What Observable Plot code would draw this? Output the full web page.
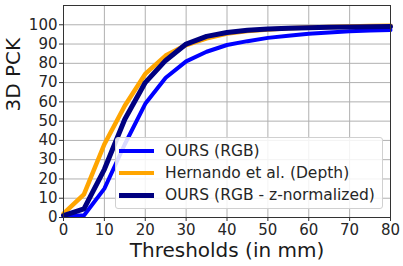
<!DOCTYPE html>
<html>
<head>
<meta charset="utf-8">
<script src="https://cdn.jsdelivr.net/npm/d3@7"></script>
<script src="https://cdn.jsdelivr.net/npm/@observablehq/plot@0.6"></script>
<style>
  html, body { margin: 0; padding: 0; background: #fff; }
  #wrap { position: relative; width: 403px; height: 266px; font-family: "DejaVu Sans", sans-serif; }
  #legend { position: absolute; left: 115px; top: 137px; width: 268px; height: 72px;
    background: rgba(255,255,255,0.85); border: 1px solid #d0d0d0; border-radius: 3px; box-sizing: border-box; }
  .row { position: absolute; left: 3px; height: 22px; display: flex; align-items: center; font-size: 15.5px; color: #262626; white-space: nowrap; }
  .swatch { width: 35px; margin-right: 11px; }
</style>
</head>
<body>
<div id="wrap"></div>
<script>
const thresholds = [0, 5, 10, 15, 20, 25, 30, 35, 40, 45, 50, 55, 60, 65, 70, 75, 80];
const oursRGB   = [1, 1, 15, 38, 59, 72.5, 81, 86, 89.5, 91.5, 93.2, 94.3, 95.3, 96, 96.6, 97, 97.3];
const hernando  = [2, 12, 38, 58, 74.5, 84, 89.5, 93, 95.5, 96.8, 97.6, 98.2, 98.6, 98.9, 99.1, 99.3, 99.5];
const oursZ     = [1, 4.5, 25, 51, 70, 81.5, 90, 94, 96, 97.2, 97.8, 98.2, 98.5, 98.7, 98.9, 99, 99.1];
const seriesNames = ["OURS (RGB)", "Hernando et al. (Depth)", "OURS (RGB - z-normalized)"];
const seriesColors = ["#0000ff", "#ffa500", "#000080"];
const seriesWidths = [4, 4.5, 5];
const xTicks = [0, 10, 20, 30, 40, 50, 60, 70, 80];
const yTicks = [0, 10, 20, 30, 40, 50, 60, 70, 80, 90, 100];
const xLabel = "Thresholds (in mm)";
const yLabel = "3D PCK";

const seriesValues = [oursRGB, hernando, oursZ];
const lines = seriesValues.map((vals, i) =>
  Plot.line(thresholds.map((t, j) => ({x: t, y: vals[j]})), {
    x: "x", y: "y", stroke: seriesColors[i], strokeWidth: seriesWidths[i], strokeLinejoin: "round"
  })
);

const chart = Plot.plot({
  width: 403, height: 266,
  marginLeft: 63, marginRight: 13, marginTop: 5, marginBottom: 49,
  style: {fontFamily: "DejaVu Sans, sans-serif", color: "#262626", background: "#fff"},
  x: {domain: [0, 80]},
  y: {domain: [0, 110]},
  marks: [
    Plot.gridX(xTicks, {stroke: "#b0b0b0", strokeOpacity: 1, strokeWidth: 1}),
    Plot.gridY(yTicks, {stroke: "#b0b0b0", strokeOpacity: 1, strokeWidth: 1}),
    Plot.axisX(xTicks, {label: null, fontSize: 15, tickSize: 4, tickPadding: 3, stroke: "#333"}),
    Plot.axisY(yTicks, {label: null, fontSize: 15, tickSize: 4, tickPadding: 2, stroke: "#333"}),
    ...lines,
    Plot.frame({stroke: "#333", strokeWidth: 1}),
    Plot.text([xLabel], {frameAnchor: "bottom", lineAnchor: "middle", dy: 33, fontSize: 20, fill: "#1a1a1a"}),
    Plot.text([yLabel], {frameAnchor: "left", lineAnchor: "middle", dx: -50, rotate: -90, fontSize: 20, fill: "#1a1a1a"})
  ]
});

const wrap = document.getElementById("wrap");
wrap.appendChild(chart);
const legend = document.createElement("div");
legend.id = "legend";
seriesNames.forEach((name, i) => {
  const row = document.createElement("div");
  row.className = "row";
  row.style.top = (2 + i * 22) + "px";
  const sw = document.createElement("div");
  sw.className = "swatch";
  sw.style.height = seriesWidths[i] + "px";
  sw.style.background = seriesColors[i];
  const label = document.createElement("span");
  label.textContent = name;
  row.appendChild(sw);
  row.appendChild(label);
  legend.appendChild(row);
});
wrap.appendChild(legend);
</script>
</body>
</html>
